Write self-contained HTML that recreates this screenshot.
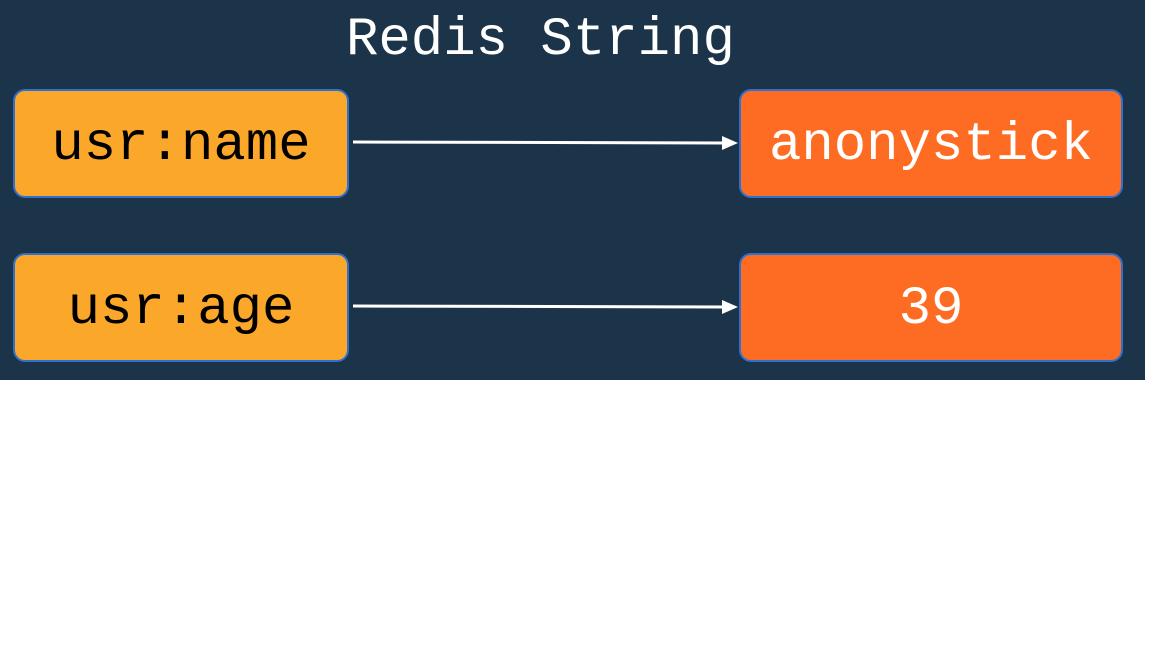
<!DOCTYPE html>
<html><head><style>
body{margin:0;width:1152px;height:648px;background:#fff;overflow:hidden}
.bg{position:absolute;left:0;top:0;width:1145px;height:380px;background:#1c344a}
.t{position:absolute;font-family:"Liberation Mono",monospace;font-size:54px;line-height:1;white-space:nowrap}
.box{position:absolute;border:2px solid #2f6fd0;border-radius:12px;box-sizing:border-box;display:flex;align-items:center;justify-content:center;font-family:"Liberation Mono",monospace;font-size:54px;padding-top:4px}
.k{background:#fba72a;color:#000;left:13px;width:336px;height:109px}
.v{background:#fd6c22;color:#fff;left:739px;width:384px;height:109px}
</style></head><body>
<div class="bg"></div>
<div class="t" style="left:346px;top:14px;color:#fff">Redis String</div>
<div class="box k" style="top:89px">usr:name</div>
<div class="box k" style="top:253px">usr:age</div>
<div class="box v" style="top:89px">anonystick</div>
<div class="box v" style="top:253px">39</div>
<svg style="position:absolute;left:0;top:0" width="1152" height="380">
<line x1="353" y1="142" x2="724" y2="143" stroke="#fff" stroke-width="3"/>
<polygon points="722,136 738,143 722,150" fill="#fff"/>
<line x1="353" y1="306" x2="724" y2="307" stroke="#fff" stroke-width="3"/>
<polygon points="722,300 738,307 722,314" fill="#fff"/>
</svg>
</body></html>
